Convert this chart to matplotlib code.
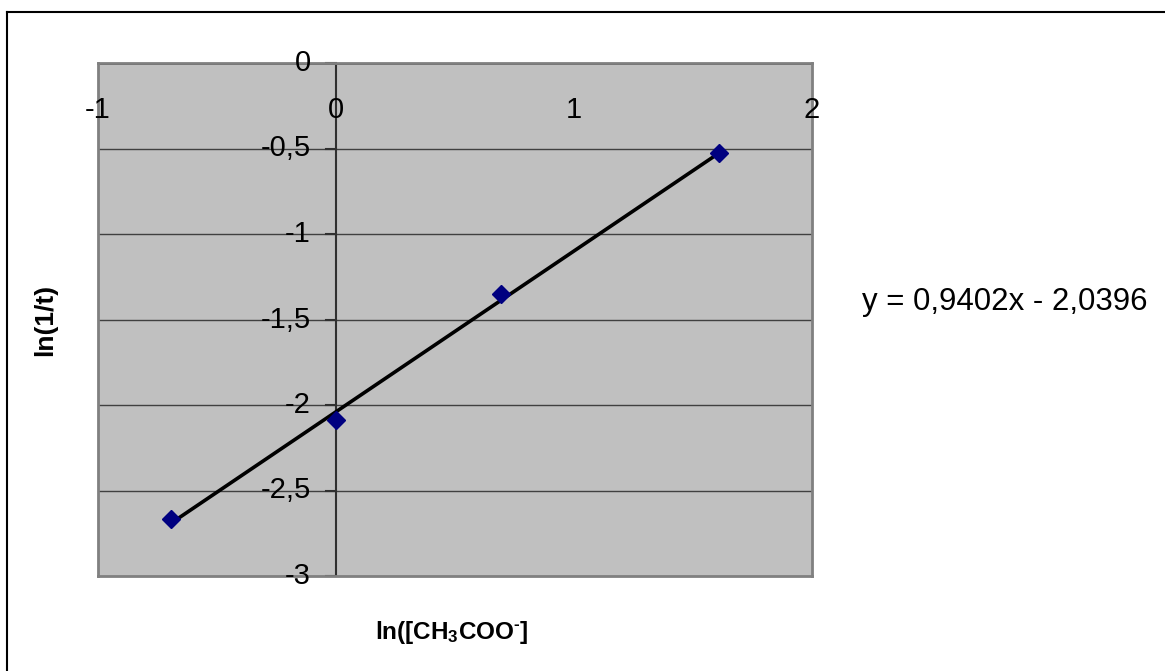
import matplotlib
matplotlib.use("Agg")
import matplotlib.pyplot as plt
from matplotlib.lines import Line2D
import numpy as np

# --- data ---
ln_conc = [-0.693, 0.0, 0.693, 1.609]        # ln([CH3COO-])
ln_inv_t = [-2.667, -2.088, -1.351, -0.526]  # ln(1/t)
slope = 0.9402
intercept = -2.0396
x_ticks = [-1, 0, 1, 2]
x_tick_labels = ["-1", "0", "1", "2"]
y_ticks = [0, -0.5, -1, -1.5, -2, -2.5, -3]
y_tick_labels = ["0", "-0,5", "-1", "-1,5", "-2", "-2,5", "-3"]
eq_text = "y = 0,9402x - 2,0396"

plt.rcParams["font.family"] = ["Liberation Sans", "DejaVu Sans"]
plt.rcParams["mathtext.fontset"] = "custom"
plt.rcParams["mathtext.rm"] = "Liberation Sans"
plt.rcParams["mathtext.bf"] = "Liberation Sans:bold"

W, H = 1165, 671
fig = plt.figure(figsize=(W / 100, H / 100), dpi=100)
fig.patch.set_facecolor("white")

# plot area in pixels: x 98..812, y 63..576
ax = fig.add_axes([98 / W, 1 - 576 / H, (812 - 98) / W, (576 - 63) / H])
ax.set_facecolor("#C0C0C0")
ax.set_xlim(-1, 2)
ax.set_ylim(-3, 0)
for s in ax.spines.values():
    s.set_color("#808080")
    s.set_linewidth(2)
ax.set_xticks([])
ax.set_yticks([])

# gridlines
for yv in y_ticks[1:-1]:
    ax.axhline(yv, color="#404040", lw=1, zorder=1)
# axis lines crossing at 0
ax.axhline(0, color="#303030", lw=2, zorder=2)
ax.axvline(0, color="#303030", lw=1.5, zorder=2)

# tick marks on y axis and labels
for yv, lab in zip(y_ticks, y_tick_labels):
    ax.plot([-0.04, 0], [yv, yv], color="#303030", lw=1.5, zorder=2, clip_on=False)
    ax.annotate(lab, (0, yv), xytext=(-18, 0), textcoords="offset points",
                ha="right", va="center", fontsize=21, annotation_clip=False)
for xv, lab in zip(x_ticks, x_tick_labels):
    ax.annotate(lab, (xv, 0), xytext=(0, -34), textcoords="offset points",
                ha="center", va="center", fontsize=21, annotation_clip=False)

# trend line and points
xs = np.array([min(ln_conc), max(ln_conc)])
ax.plot(xs, slope * xs + intercept, color="black", lw=2.6, zorder=3)
ax.plot(ln_conc, ln_inv_t, linestyle="none", marker="D", ms=9,
        color="#000080", markeredgecolor="#000080", zorder=4)

# labels
fig.text(45 / W, 1 - 320 / H, "ln(1/t)", rotation=90, ha="center", va="center",
         fontsize=19, fontweight="bold")
fig.text(452 / W, 1 - 632 / H, "$\\mathbf{ln([CH_3COO^{\u2010}]}$", ha="center",
         va="center", fontsize=17.5)
fig.text(862 / W, 1 - 302 / H, eq_text, ha="left", va="center", fontsize=22.5)

# outer chart frame (only top and left visible)
fig.add_artist(Line2D([7 / W, 1.01], [1 - 12 / H, 1 - 12 / H], color="black",
                      lw=1.5, transform=fig.transFigure))
fig.add_artist(Line2D([7 / W, 7 / W], [1 - 12 / H, -0.01], color="black",
                      lw=1.5, transform=fig.transFigure))

fig.savefig("out.png", dpi=100)
